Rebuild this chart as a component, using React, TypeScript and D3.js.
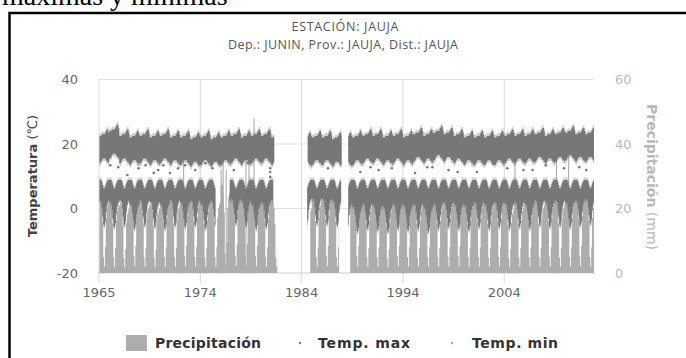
import React from 'react';
import * as d3 from 'd3';

const W = 686;
const H = 358;

// ---- axis ticks ----
const xTickValues = [1964, 1974, 1984, 1994, 2004];
const xTickLabels = ['1965', '1974', '1984', '1994', '2004'];
const tempTicks = [-20, 0, 20, 40];
const precipTicks = [0, 20, 40, 60];

// ---- monthly climatology (Jan..Dec) ----
const precipClim = [23, 24, 23, 21, 16, 5, 2, 8, 17, 20, 21, 22];
const tmaxHiClim = [22.5, 22.5, 22.5, 23, 23, 23, 23, 23.5, 24, 24.5, 24.5, 23.5];
const tmaxLoClim = [14, 14, 14.5, 15, 15.5, 15.5, 15.5, 15.5, 15, 14.5, 14.5, 14];
const tminHiClim = [8.8, 8.8, 8.8, 8.3, 7.3, 6.3, 6.3, 6.8, 7.8, 8.3, 8.8, 8.8];
const tminLoClim = [1.5, 1.5, 1, -1, -3.5, -6, -6.5, -5, -2, 0, 1, 1.5];

// ---- yearly values (1964..2012) ----
const firstYear = 1964;
const tmaxTop = [24, 25.5, 24, 23.5, 24, 23.5, 24, 23.5, 23.5, 23, 23.5, 23, 23.5, 24, 23.5, 24, 24, 23.5, 23.5, 23.5,
  23, 23.5, 23.5, 23, 23, 23.5, 24, 24, 23.5, 24, 23.5, 24.5, 24, 25, 24.5, 24, 23.5, 23.5, 23.5, 23.5,
  24, 24, 24, 24.5, 24, 24.5, 25, 24.5, 24.5];
const tminDip = [-5, -5.5, -5, -6, -5, -5.5, -6, -5, -5.5, -5, -6, -5, -5, -4.5, -5, -6, -5.5, -5, -5, -5,
  -4.5, -4.5, -4.5, -5, -6, -7, -6, -6.5, -7, -6, -6.5, -6, -7, -6, -5.5, -6, -6.5, -5.5, -6, -5.5,
  -6, -5.5, -6, -5, -5.5, -5, -5.5, -5, -4.5];
const precipPeak = [22, 21, 20, 23, 21, 20, 22, 21, 23, 22, 21, 22, 26, 24, 25, 23, 22, 21, 20, 20,
  20, 22, 23, 22, 22, 23, 21, 22, 20, 23, 22, 21, 22, 21, 22, 23, 21, 22, 21, 22,
  20, 21, 22, 21, 22, 21, 22, 23, 22];

// ---- periods with records ----
const tmaxPeriods: [number, number][] = [[1964.05, 1981.3], [1984.6, 1987.95], [1988.6, 2012.86]];
const tminPeriods: [number, number][] = [[1964.05, 1975.5], [1976.9, 1981.2], [1984.55, 1987.9], [1988.6, 2012.86]];
const precipPeriods: [number, number][] = [[1964.05, 1981.6], [1984.85, 1987.7], [1988.8, 2012.86]];

// ---- single days that stand out ----
const precipExtremes: [number, number][] = [
  [1972.3, 36], [1976.0, 32], [1976.2, 37.5], [1976.5, 32], [1978.45, 35], [1978.75, 36],
  [1979.25, 48], [2005.0, 37], [2009.1, 36], [2010.3, 40],
];
const tmaxOutliers: [number, number][] = [
  [1965.12, 13.4], [1965.9, 12.8], [1966.8, 10.4], [1967.9, 12.5], [1968.6, 13.4], [1969.4, 11.0],
  [1969.85, 11.9], [1970.35, 13.4], [1971.0, 11.0], [1971.8, 12.5], [1972.5, 13.4], [1973.5, 11.9],
  [1974.5, 14.0], [1975.2, 12.5], [1977.3, 11.9], [1978.7, 14.0], [1980.9, 12.5], [1980.9, 11.3],
  [1980.9, 9.8], [1986.6, 12.5], [1989.8, 11.3], [1990.8, 12.8], [1991.6, 11.9], [1992.9, 12.5],
  [1995.2, 11.0], [1996.4, 12.8], [1996.9, 12.8], [1998.5, 11.9], [1999.4, 11.3], [2001.3, 11.3],
  [2002.9, 14.0], [2004.3, 12.5], [2005.9, 11.9], [2006.8, 11.9], [2008.1, 13.4], [2009.9, 12.5],
  [2011.4, 12.8], [2012.1, 11.9],
];

type Pt = { t: number; lo: number; hi: number };

// one list of monthly steps for every period with records
function monthly(periods: [number, number][], lo: (m: number, yi: number) => number, hi: (m: number, yi: number) => number): Pt[][] {
  return periods.map(([p0, p1]) => {
    const pts: Pt[] = [];
    for (let yi = 0; yi < tmaxTop.length; yi++) {
      for (let m = 0; m < 12; m++) {
        const a = firstYear + yi + m / 12;
        const b = a + 1 / 12;
        const t0 = Math.max(a, p0);
        const t1 = Math.min(b, p1);
        if (t1 > t0) pts.push({ t: t0, lo: lo(m, yi), hi: hi(m, yi) });
      }
    }
    if (pts.length) pts.push({ t: p1, lo: pts[pts.length - 1].lo, hi: pts[pts.length - 1].hi });
    return pts;
  });
}

const precipRuns = monthly(precipPeriods, () => 0, (m, yi) => (precipClim[m] * precipPeak[yi]) / 22);
const tmaxRuns = monthly(tmaxPeriods, (m, yi) => tmaxLoClim[m] + (tmaxTop[yi] - 24), (m, yi) => tmaxHiClim[m] + (tmaxTop[yi] - 24));
const tminRuns = monthly(tminPeriods, (m, yi) => tminLoClim[m] + (tminDip[yi] + 6), (m) => tminHiClim[m]);

export default function App() {
  const plotL = 99, plotR = 594, plotT = 79.5, plotB = 273;
  const x = d3.scaleLinear().domain([1964, 2012.86]).range([plotL, plotR]);
  const yT = d3.scaleLinear().domain([-20, 40]).range([plotB, plotT]);
  const yP = d3.scaleLinear().domain([0, 60]).range([plotB, plotT]);

  const tempArea = (pad: number) => d3.area<Pt>().curve(d3.curveStepAfter)
    .x((d) => x(d.t)).y0((d) => yT(d.lo - pad)).y1((d) => yT(d.hi + pad));
  const precipArea = d3.area<Pt>().curve(d3.curveStepAfter)
    .x((d) => x(d.t)).y0(() => yP(0)).y1((d) => yP(d.hi));

  const tempColor = '#777777';
  const precipColor = '#adadad';
  const font = '"DejaVu Sans", Verdana, sans-serif';

  return (
    <svg width={W} height={H} style={{ position: 'absolute', left: 0, top: 0, display: 'block', background: '#fff' }}>
      <text x={2} y={5} fontFamily='"Liberation Serif", "Times New Roman", serif' fontSize={28} fill="#000">máximas y mínimas</text>
      <path d={`M9.5,${H} V13 H${W}`} fill="none" stroke="#000" strokeWidth={2.5} />

      <text x={345} y={31} textAnchor="middle" fontFamily='"Open Sans", sans-serif' fontSize={12.5} fill="#555" textLength={107}>ESTACIÓN: JAUJA</text>
      <text x={343} y={49} textAnchor="middle" fontFamily='"Open Sans", sans-serif' fontSize={12.5} fill="#555" textLength={230}>Dep.: JUNIN, Prov.: JAUJA, Dist.: JAUJA</text>

      {/* grid */}
      {tempTicks.map((t) => (
        <line key={'h' + t} x1={plotL} x2={plotR} y1={yT(t)} y2={yT(t)} stroke={t === -20 ? '#cfcfcf' : '#e2e2e2'} strokeWidth={1} />
      ))}
      {xTickValues.map((t) => (
        <line key={'v' + t} x1={x(t)} x2={x(t)} y1={plotT} y2={plotB + 10} stroke="#d8d8d8" strokeWidth={1} />
      ))}

      {/* precipitation */}
      <g fill={precipColor}>
        {precipRuns.map((r, i) => <path key={'p' + i} d={precipArea(r) || ''} />)}
        {precipExtremes.map(([t, v], i) => (
          <rect key={'e' + i} x={x(t)} width={1.1} y={yP(v)} height={yP(0) - yP(v)} />
        ))}
      </g>

      {/* temperatures: sparse fringe, then dense core */}
      <g fill={tempColor}>
        {tminRuns.map((r, i) => <path key={'nf' + i} d={tempArea(0.8)(r) || ''} opacity={0.35} />)}
        {tmaxRuns.map((r, i) => <path key={'xf' + i} d={tempArea(0.8)(r) || ''} opacity={0.35} />)}
        {tminRuns.map((r, i) => <path key={'n' + i} d={tempArea(0)(r) || ''} />)}
        {tmaxRuns.map((r, i) => <path key={'x' + i} d={tempArea(0)(r) || ''} />)}
        {tmaxOutliers.map(([t, v], i) => (
          <circle key={'o' + i} cx={x(t)} cy={yT(v)} r={1.3} />
        ))}
      </g>

      {/* axes labels */}
      {tempTicks.map((t) => (
        <text key={'lt' + t} x={78} y={yT(t) + 4.5} textAnchor="end" fontFamily={font} fontSize={13} fill="#666">{t}</text>
      ))}
      {precipTicks.map((t) => (
        <text key={'lp' + t} x={615} y={yP(t) + 4.5} textAnchor="start" fontFamily={font} fontSize={13} fill="#bbb">{t}</text>
      ))}
      {xTickValues.map((t, i) => (
        <text key={'lx' + t} x={x(t)} y={297} textAnchor="middle" fontFamily={font} fontSize={13} fill="#666">{xTickLabels[i]}</text>
      ))}

      <text transform="translate(37,176) rotate(-90)" textAnchor="middle" fontFamily={font} fontSize={13} fill="#444">
        <tspan fontWeight="bold">Temperatura</tspan><tspan> (℃)</tspan>
      </text>
      <text transform="translate(647,177) rotate(90)" textAnchor="middle" fontFamily={font} fontSize={14} fill="#b8b8b8">
        <tspan fontWeight="bold">Precipitación</tspan><tspan> (mm)</tspan>
      </text>

      {/* legend */}
      <rect x={126} y={335} width={21} height={16} fill={precipColor} />
      <text x={155} y={348} fontFamily={font} fontSize={14} fontWeight="bold" fill="#333" textLength={106}>Precipitación</text>
      <circle cx={300} cy={343} r={1.2} fill={tempColor} />
      <text x={318} y={348} fontFamily={font} fontSize={14} fontWeight="bold" fill="#333" textLength={92}>Temp. max</text>
      <circle cx={452} cy={343} r={1.2} fill="#aaa" />
      <text x={472} y={348} fontFamily={font} fontSize={14} fontWeight="bold" fill="#333" textLength={86}>Temp. min</text>
    </svg>
  );
}
